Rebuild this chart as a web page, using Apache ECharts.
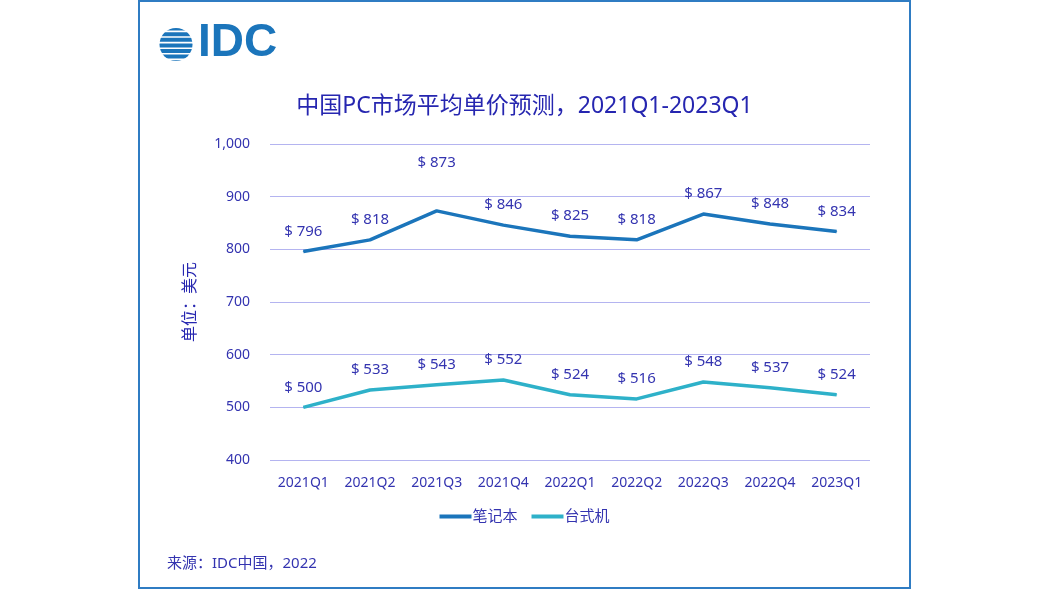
<!DOCTYPE html>
<html><head><meta charset="utf-8">
<script src="https://cdn.jsdelivr.net/npm/echarts@6/dist/echarts.min.js"></script>
<style>html,body{margin:0;padding:0;background:#fff}#c{width:1049px;height:590px}</style>
</head><body><div id="c"></div>
<script>
const categories = ['2021Q1','2021Q2','2021Q3','2021Q4','2022Q1','2022Q2','2022Q3','2022Q4','2023Q1'];
const notebook = [796, 818, 873, 846, 825, 818, 867, 848, 834];
const desktop = [500, 533, 543, 552, 524, 516, 548, 537, 524];
const seriesNames = ['笔记本', '台式机'];
const yTicks = {min: 400, max: 1000, interval: 100};

const txt = '#3434b0';
const font = '"Noto Sans","Noto Sans CJK SC",sans-serif';
const chart = echarts.init(document.getElementById('c'));
const stripes = [];
const cx = 176, cy = 44.5, r = 16.5;
for (let i = 0; i < 6; i++) {
  stripes.push({type:'rect', shape:{x:cx-r-2, y:cy-r+2.6+i*5.6, width:2*r+4, height:1.6}, style:{fill:'#fff'}, z:11});
}
// the reference raises the label of the 2021Q3 notebook point
const notebookData = notebook.map((v, i) => i === 2 ? {value: v, label: {offset: [0, -28]}} : v);
const lbl = (d) => ({show:true, position:'top', distance:d, color:txt, fontSize:15, fontFamily:font,
  formatter:p=>'$ '+p.value});
chart.setOption({
  textStyle:{fontFamily:font},
  title:{text:'中国PC市场平均单价预测，2021Q1-2023Q1', left:'center', top:90,
    textStyle:{color:'#2626b0', fontSize:23, fontWeight:'normal', fontFamily:font}},
  legend:{bottom:61, left:'center', itemWidth:32, itemHeight:4, itemGap:14,
    icon:'rect',
    textStyle:{color:txt, fontSize:15, fontFamily:font, padding:[0,0,0,-4]},
    data:seriesNames},
  grid:{left:270, right:179, top:144, bottom:130},
  xAxis:{type:'category', data:categories, boundaryGap:true,
    axisLine:{show:false}, axisTick:{show:false},
    axisLabel:{color:txt, fontSize:14, margin:16, fontFamily:font}},
  yAxis:{type:'value', min:yTicks.min, max:yTicks.max, interval:yTicks.interval,
    name:'单位：美元', nameLocation:'middle', nameGap:72, nameRotate:90,
    nameTextStyle:{color:'#2626b0', fontSize:16, fontFamily:font},
    axisLine:{show:false}, axisTick:{show:false},
    splitLine:{lineStyle:{color:'#b4b4f0', width:1}},
    axisLabel:{color:txt, fontSize:14, margin:20, fontFamily:font,
      formatter:v=>v.toLocaleString('en-US')}},
  series:[
    {name:seriesNames[0], type:'line', data:notebookData, symbol:'circle', symbolSize:1, showSymbol:true,
      lineStyle:{color:'#1b75bb', width:3.5}, itemStyle:{color:'#1b75bb'},
      label:lbl(12)},
    {name:seriesNames[1], type:'line', data:desktop, symbol:'circle', symbolSize:1, showSymbol:true,
      lineStyle:{color:'#2eb1c9', width:3.5}, itemStyle:{color:'#2eb1c9'},
      label:lbl(12)}
  ],
  graphic:[
    {type:'rect', shape:{x:139, y:1, width:771, height:587}, style:{fill:'none', stroke:'#2f7cc3', lineWidth:2}, z:1},
    {type:'circle', shape:{cx:cx, cy:cy, r:r}, style:{fill:'#1b75bb'}, z:10},
    ...stripes,
    {type:'text', left:198, top:20, style:{text:'IDC', fill:'#1b75bb', fontSize:46, fontFamily:'"Liberation Sans",Arial,sans-serif', fontWeight:'bold'}, z:10},
    {type:'text', left:167, top:556, style:{text:'来源：IDC中国，2022', fill:txt, fontSize:15, fontFamily:font}, z:10}
  ]
});
</script></body></html>
